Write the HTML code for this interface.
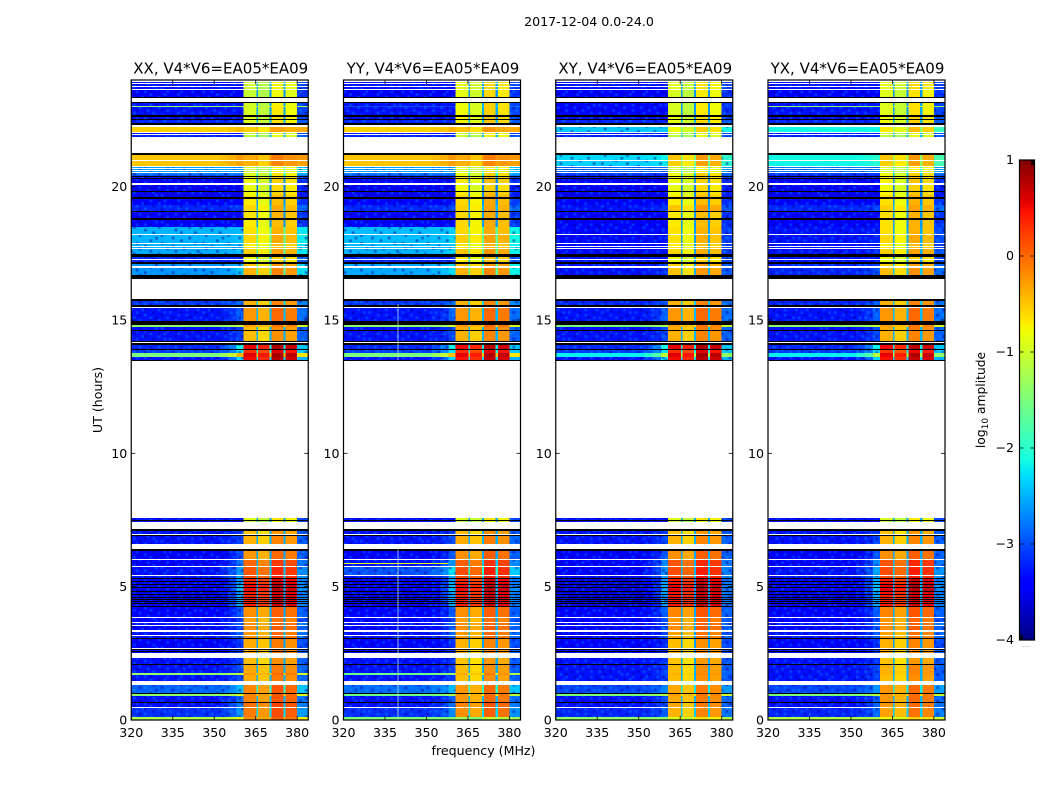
<!DOCTYPE html>
<html lang="en">
<head>
<meta charset="utf-8">
<title>2017-12-04 0.0-24.0 amplitude waterfall</title>
<style>
html,body{margin:0;padding:0;background:#fff;}
svg{display:block;font-family:"DejaVu Sans","Liberation Sans",sans-serif;fill:#000;}
.tick{font-size:12.6px;}
.title{font-size:15px;}
.label{font-size:12.6px;}
</style>
</head>
<body>
<svg id="chart" xmlns="http://www.w3.org/2000/svg" width="1050" height="800" viewBox="0 0 1050 800">
  <defs>
    <pattern id="speckle" patternUnits="userSpaceOnUse" width="66.48" height="26.6"></pattern>
    <linearGradient id="jetGradient" x1="0" y1="1" x2="0" y2="0"></linearGradient>
  </defs>
  <text x="589" y="26" text-anchor="middle" class="label">2017-12-04 0.0-24.0</text>
  <text x="483.500" y="755" text-anchor="middle" class="label">frequency (MHz)</text>
  <text transform="translate(102,400) rotate(-90)" text-anchor="middle" class="label">UT (hours)</text>
  <text transform="translate(985,400) rotate(-90)" text-anchor="middle" class="label" style="font-size:12.3px">log<tspan dy="3" font-size="9">10</tspan><tspan dy="-3"> amplitude</tspan></text>
  <g id="panels"></g>
  <g id="colorbar"></g>
</svg>
<script>
/* ---- time structure: runs of samples from the top of the plot (24 h) downward ---- */
const sampleHours = 0.0375;
/* Run table: kind letter (W = no data, K = flagged black, D = data) and length in samples */
const runTable = [
 ["W",2],["D",1],["W",1],["D",2],["W",1],["D",2],["W",1],["D",7],["K",1],["W",4],
 ["K",1],["D",3],["D",1],["D",8],["K",2],["D",2],["K",1],["D",3],["K",2],["W",2],
 ["D",5],["W",1],["D",1],["W",1],["D",2],["W",16],["K",2],["D",5],["W",1],["D",5],
 ["W",1],["D",1],["W",1],["D",1],["W",1],["D",1],["W",1],["D",2],["D",1],["K",1],
 ["D",1],["K",1],["D",4],["W",2],["D",6],["K",1],["D",3],["D",2],["K",2],["D",6],
 ["D",6],["K",1],["D",6],["K",2],["D",7],["D",7],["W",1],["D",8],["W",1],["D",2],
 ["W",1],["D",1],["W",1],["D",5],["K",3],["D",2],["W",1],["D",2],["K",2],["D",2],
 ["W",2],["D",7],["K",4],["W",20],["K",2],["D",4],["K",2],["W",1],["D",13],["K",4],
 ["D",2],["D",3],["K",1],["D",10],["K",1],["W",1],["K",2],["D",4],["K",1],["D",3],
 ["D",4],["D",3],["K",1],["W",157],["D",2],["K",1],["D",1],["W",7],["K",2],["D",3],
 ["W",1],["K",1],["D",8],["W",5],["K",2],["D",8],["W",1],["D",6],["W",1],["D",8],
 ["W",1],["D",2],["K",1],["D",2],["K",1],["D",2],["K",1],["D",2],["K",1],["D",3],
 ["K",1],["D",2],["K",1],["D",2],["K",1],["D",1],["K",1],["D",1],["K",1],["D",1],
 ["K",1],["D",2],["K",1],["D",10],["W",1],["D",4],["W",1],["D",2],["W",1],["D",4],
 ["W",2],["D",3],["W",1],["D",2],["K",1],["D",9],["W",1],["K",1],["D",1],["K",1],
 ["D",1],["W",5],["D",6],["K",1],["D",8],["D",2],["D",6],["W",4],["D",8],["K",1],
 ["D",2],["D",6],["K",1],["D",4],["W",1],["D",9],["D",3]
];

/* ---- log10 amplitude of each data run, one array per panel ---- */
const lowXX = [
 -3.1,-3.1,-3.1,-3.2,-3.1,-1.2,-3.1,-3.1,-3.0,-0.35,
 -3.1,-3.0,-0.3,-0.3,-2.4,-2.4,-2.4,-2.6,-2.8,-3.1,
 -3.2,-3.3,-3.3,-3.3,-3.2,-3.0,-3.2,-3.2,-2.3,-2.3,
 -2.3,-2.3,-2.35,-3.0,-3.0,-2.45,-2.45,-2.9,-3.1,-1.2,
 -3.1,-3.1,-3.0,-2.9,-1.3,-3.1,-3.1,-3.1,-3.1,-3.1,
 -3.2,-3.2,-3.1,-3.1,-3.3,-3.3,-3.3,-3.3,-3.3,-3.3,
 -3.3,-3.3,-3.3,-3.3,-3.2,-3.2,-3.1,-3.2,-3.1,-3.1,
 -3.2,-3.2,-3.2,-3.1,-3.1,-1.2,-3.1,-2.7,-1.2,-3.1,
 -3.1,-2.95,-1.0];
const highXX = [
 -0.9,-0.9,-0.9,-0.95,-0.9,-0.85,-0.85,-0.8,-0.8,-0.45,
 -1,-1,-0.25,-0.3,-0.9,-0.9,-0.9,-0.8,-0.8,-0.7,
 -0.7,-0.75,-0.7,-0.6,-0.6,-0.5,-0.55,-0.6,-0.55,-0.5,
 -0.6,-0.6,-0.45,-0.7,-0.7,-0.4,-0.3,-0.3,-0.15,-0.2,
 -0.35,-0.35,0.65,0.4,0.7,0.6,-0.8,-1,-0.4,-0.3,
 -0.15,0.1,0.2,0.25,0.45,0.5,0.6,0.6,0.5,0.5,
 0.5,0.5,0.5,0.5,-0.1,-0.2,-0.1,-0.1,-0.15,-0.1,
 -0.25,-0.2,-0.2,-0.35,-0.25,-0.15,-0.25,-0.05,-0.05,-0.05,
 0.05,0,-0.1];
const lowYY = [
 -3.1,-3.1,-3.1,-3.2,-3.1,-2.8,-3.1,-3.1,-3.0,-0.35,
 -3.1,-3.0,-0.3,-0.3,-2.4,-2.4,-2.4,-2.6,-2.8,-3.1,
 -3.2,-3.3,-3.3,-3.3,-3.2,-3.0,-3.2,-3.2,-2.25,-2.25,
 -2.25,-2.25,-2.3,-3.0,-3.0,-2.35,-2.35,-2.9,-3.1,-1.2,
 -3.1,-3.1,-3.0,-2.9,-1.3,-3.1,-3.1,-3.1,-3.1,-3.1,
 -3.2,-3.1,-2.8,-3.1,-3.3,-3.3,-3.3,-3.3,-3.3,-3.3,
 -3.3,-3.3,-3.3,-3.3,-3.2,-3.2,-3.1,-3.2,-3.1,-3.1,
 -3.2,-3.2,-3.2,-3.1,-3.1,-1.4,-3.1,-2.65,-1.4,-3.1,
 -3.1,-2.95,-1.3];
const highYY = [
 -0.75,-0.75,-0.75,-0.75,-0.7,-0.7,-0.7,-0.65,-0.65,-0.4,
 -0.9,-0.9,-0.25,-0.3,-0.8,-0.8,-0.8,-0.7,-0.7,-0.6,
 -0.6,-0.7,-0.6,-0.5,-0.5,-0.45,-0.5,-0.5,-0.5,-0.45,
 -0.55,-0.55,-0.4,-0.6,-0.6,-0.35,-0.3,-0.3,-0.15,-0.15,
 -0.25,-0.3,0.6,0.4,0.65,0.55,-0.8,-1,-0.35,-0.25,
 -0.1,0.15,0.25,0.25,0.45,0.5,0.6,0.6,0.5,0.5,
 0.5,0.5,0.5,0.5,-0.1,-0.2,-0.1,-0.1,-0.15,-0.15,
 -0.3,-0.3,-0.3,-0.4,-0.35,-0.25,-0.35,-0.15,-0.15,-0.15,
 -0.05,-0.1,-1.2];
const lowXY = [
 -3.1,-3.1,-3.1,-3.2,-3.2,-3.1,-3.2,-3.1,-3.0,-2.2,
 -3.1,-3.0,-2.1,-2.15,-2.7,-2.7,-2.7,-2.9,-3.0,-3.1,
 -3.2,-3.3,-3.3,-3.3,-3.2,-3.1,-3.2,-3.2,-3.15,-3.15,
 -3.15,-3.15,-3.15,-3.1,-3.1,-3.1,-3.1,-3.0,-3.1,-1.3,
 -3.1,-3.1,-3.0,-2.9,-2.0,-3.1,-3.1,-3.1,-3.1,-3.1,
 -3.2,-3.2,-3.2,-3.2,-3.4,-3.4,-3.4,-3.4,-3.4,-3.4,
 -3.4,-3.4,-3.4,-3.4,-3.2,-3.2,-3.2,-3.2,-3.2,-3.2,
 -3.2,-3.2,-3.2,-3.1,-3.1,-3.1,-3.1,-2.85,-1.3,-3.1,
 -3.1,-3.0,-1.2];
const highXY = [
 -0.8,-0.8,-0.8,-0.85,-0.85,-0.85,-0.85,-0.75,-0.75,-0.7,
 -1,-1,-0.4,-0.45,-0.9,-0.9,-0.9,-0.7,-0.7,-0.7,
 -0.7,-0.75,-0.7,-0.6,-0.6,-0.4,-0.6,-0.6,-0.55,-0.55,
 -0.6,-0.6,-0.5,-0.7,-0.7,-0.45,-0.4,-0.3,-0.15,-0.2,
 -0.25,-0.3,0.65,0.4,0.7,0.6,-0.8,-1,-0.4,-0.3,
 -0.1,0.2,0.25,0.3,0.5,0.55,0.65,0.65,0.55,0.55,
 0.55,0.55,0.55,0.55,-0.05,-0.15,-0.1,-0.1,-0.2,-0.2,
 -0.35,-0.3,-0.3,-0.4,-0.35,-0.3,-0.35,-0.25,-0.2,-0.25,
 -0.25,-0.3,-0.8];
const lowYX = [
 -3.1,-3.1,-3.1,-3.2,-3.1,-1.3,-3.1,-3.1,-3.0,-1.95,
 -3.1,-3.0,-1.95,-1.95,-2.6,-2.6,-2.6,-2.9,-3.0,-3.1,
 -3.2,-3.3,-3.3,-3.3,-3.2,-3.0,-3.2,-3.2,-3.1,-3.1,
 -3.1,-3.1,-3.1,-3.1,-3.1,-3.0,-3.0,-3.0,-3.1,-1.2,
 -3.1,-3.1,-3.0,-2.9,-2.0,-3.1,-3.1,-3.1,-3.1,-3.1,
 -3.2,-3.2,-3.1,-3.1,-3.3,-3.3,-3.3,-3.3,-3.3,-3.3,
 -3.3,-3.3,-3.3,-3.3,-3.2,-3.2,-3.1,-3.2,-3.1,-3.1,
 -3.2,-3.2,-3.2,-3.1,-3.1,-3.1,-3.1,-2.85,-1.3,-3.1,
 -3.1,-3.0,-1.0];
const highYX = [
 -0.75,-0.75,-0.75,-0.8,-0.8,-0.8,-0.8,-0.7,-0.7,-0.6,
 -1,-1,-0.4,-0.45,-0.85,-0.85,-0.85,-0.7,-0.7,-0.65,
 -0.65,-0.7,-0.65,-0.55,-0.55,-0.45,-0.55,-0.55,-0.55,-0.5,
 -0.6,-0.6,-0.45,-0.7,-0.7,-0.45,-0.35,-0.3,-0.15,-0.2,
 -0.25,-0.3,0.6,0.35,0.65,0.55,-0.85,-1,-0.4,-0.3,
 -0.1,0.2,0.25,0.25,0.5,0.55,0.65,0.65,0.55,0.5,
 0.5,0.5,0.5,0.5,-0.05,-0.15,-0.1,-0.1,-0.2,-0.2,
 -0.3,-0.3,-0.3,-0.4,-0.3,-0.3,-0.35,-0.15,-0.15,-0.15,
 -0.15,-0.2,-0.7];

/* ---- frequency structure of the band ---- */
const segmentEdges   = [320,352,355,358,360.5,365.2,365.8,370,370.8,375,375.8,380,384];
const segmentInBand  = [0,0,0,0,1,0,1,0,1,0,1,0];
const segmentOffset  = [-0.2,-0.2,-0.2,-0.2,-0.1,0.55,-0.25,0.55,0.15,0.55,0.05,0.05];
const segmentLeak    = [0,0.15,0.35,0.85,0,0.2,0,0.2,0,0.2,0,0.45];

/* ---- narrow interference features seen only in YY ---- */
const yyLineHours    = [5.89];
const yyLineLevels   = [-0.9];
const yyColumnFreq   = [339.5];
const yyColumnStart  = [0,13.5];
const yyColumnEnd    = [6.4,15.6];

/* ---- labels and ticks ---- */
const panelNames   = ["XX","YY","XY","YX"];
const panelLows    = [lowXX,lowYY,lowXY,lowYX];
const panelHighs   = [highXX,highYY,highXY,highYX];
const xTicks       = [320,335,350,365,380];
const yTicks       = [0,5,10,15,20];
const cbarTicks    = [1,0,-1,-2,-3,-4];
const cbarMinor    = [0.95,0.9,0.85,0.8];
const baselineText = "V4*V6=EA05*EA09";
const jetKnots     = [0,0.11,0.125,0.34,0.35,0.375,0.64,0.65,0.66,0.89,0.91,1];
const noiseTile = [
 "..+...-..+.....+.-..+...",
 ".-...+....-.+.....+...-.",
 "+...-..+......-.+....+..",
 "..-.....+.+.-.....-.....",
 ".+..+.-.....+..-.+...+.-",
 "-.....+..-.+....+...-...",
 "...+-....+.....-...+...+",
 ".+.....-...+.+...-....-.",
 "..-.+.....-.....+..+....",
 "+.....+.-...+.-.....-.+."
];

/* ---- geometry ---- */
const panelLeft0 = 131.25, panelStep = 212.25, panelW = 177, axTop = 80, axH = 640;
const cbX = 1019.5, cbW = 15, cbTop = 160, cbH = 480;
const NS = "http://www.w3.org/2000/svg";
function yScale(h){ return axTop + axH*(1 - h/24); }
function xScaleFor(left){ return function(f){ return left + (f-320)/64*panelW; }; }
function cbY(v){ return cbTop + cbH*(1-(v+4)/5); }
function lerp(x,xs,ys){
  for(let i=1;i<xs.length;i++){ if(x<=xs[i]) return ys[i-1]+(ys[i]-ys[i-1])*(x-xs[i-1])/(xs[i]-xs[i-1]); }
  return ys[ys.length-1];
}
function jet(v){
  const t=Math.max(0,Math.min(1,(v+4)/5));
  const r=lerp(t,[0,0.35,0.66,0.89,1],[0,0,1,1,0.5]);
  const g=lerp(t,[0,0.125,0.375,0.64,0.91,1],[0,0,1,1,0,0]);
  const b=lerp(t,[0,0.11,0.34,0.65,1],[0.5,1,1,0,0]);
  return "rgb("+Math.round(r*255)+","+Math.round(g*255)+","+Math.round(b*255)+")";
}
function mk(tag,parent){ const e=document.createElementNS(NS,tag); parent.appendChild(e); return e; }

/* noise tile */
const speckle=document.getElementById("speckle");
noiseTile.forEach(function(row,j){
  for(let i=0;i<row.length;i++){
    if(row[i]==="."){continue;}
    const c=mk("rect",speckle);
    
    
    c.setAttribute("x",i*2.77);c.setAttribute("y",j*2.66);
    c.setAttribute("width",2.77);c.setAttribute("height",2.66);
    c.setAttribute("fill",row[i]==="+"?"#00c8ff":"#000090");
    c.setAttribute("fill-opacity",row[i]==="+"?"0.25":"0.45");
  }
});

/* panels */
const panelsG=document.getElementById("panels");
panelNames.forEach(function(name,p){
  const left=panelLeft0+p*panelStep;
  const x=xScaleFor(left);
  const low=panelLows[p], high=panelHighs[p];
  const g=mk("g",panelsG);
  
  
  const heat=mk("g",g);
  
  
  heat.setAttribute("shape-rendering","crispEdges");
  let sample=0, d=0;
  runTable.forEach(function(run){
    const kind=run[0], len=run[1];
    const hTop=24-sample*sampleHours, hBot=24-(sample+len)*sampleHours;
    sample+=len;
    const yT=yScale(hTop), yB=Math.min(yScale(hBot),axTop+axH);
    if(kind==="W"){ return; }
    if(kind==="K"){
      const k=mk("rect",heat);
      
      
      k.setAttribute("x",x(320));k.setAttribute("y",yT);
      k.setAttribute("width",panelW);k.setAttribute("height",yB-yT);
      k.setAttribute("fill","#000");
      return;
    }
    const lo=low[d], hi=high[d]; d++;
    for(let s=0;s<segmentInBand.length;s++){
      let val=(segmentInBand[s]?hi:lo)+segmentOffset[s]+segmentLeak[s]*Math.max(0,hi+0.6);
      if(!segmentInBand[s]){ val=Math.min(val,Math.max(hi,lo)); }
      const c=mk("rect",heat);
      
      
      const x0=x(segmentEdges[s]), x1=x(segmentEdges[s+1]);
      c.setAttribute("x",x0);c.setAttribute("y",yT);
      c.setAttribute("width",x1-x0);c.setAttribute("height",yB-yT);
      c.setAttribute("fill",jet(val));
      if(!segmentInBand[s] && segmentOffset[s]<0.5 && lo<-2){
        const n=mk("rect",heat);
        
        
        n.setAttribute("x",x0);n.setAttribute("y",yT);
        n.setAttribute("width",x1-x0);n.setAttribute("height",yB-yT);
        n.setAttribute("fill","url(#speckle)");
      }
    }
  });
  if(name==="YY"){
    yyLineHours.forEach(function(h,i){
      const l=mk("rect",heat);
      
      
      l.setAttribute("x",x(320));l.setAttribute("y",yScale(h));
      l.setAttribute("width",x(358)-x(320));l.setAttribute("height",1);
      l.setAttribute("fill",jet(yyLineLevels[i]));
    });
    yyColumnStart.forEach(function(h,i){
      const cl=mk("rect",heat);
      
      
      cl.setAttribute("x",x(yyColumnFreq[0]));cl.setAttribute("y",yScale(yyColumnEnd[i]));
      cl.setAttribute("width",1);cl.setAttribute("height",yScale(h)-yScale(yyColumnEnd[i]));
      cl.setAttribute("fill","#c8ffe0");cl.setAttribute("fill-opacity","0.7");
    });
  }
  /* frame */
  const frame=mk("rect",g);
  
  
  frame.setAttribute("x",left);frame.setAttribute("y",axTop);
  frame.setAttribute("width",panelW);frame.setAttribute("height",axH);
  frame.setAttribute("fill","none");frame.setAttribute("stroke","#000");frame.setAttribute("stroke-width","1.2");
  /* title */
  const t=mk("text",g);
  
  
  t.setAttribute("class","title");
  t.setAttribute("x",left+panelW/2+1);t.setAttribute("y",73.5);t.setAttribute("text-anchor","middle");
  t.textContent=name+", "+baselineText;
  /* x ticks */
  xTicks.forEach(function(v){
    const px=x(v);
    [[axTop+axH,axTop+axH-4],[axTop,axTop+4]].forEach(function(pair){
      const l=mk("line",g);
      
      
      l.setAttribute("x1",px);l.setAttribute("x2",px);l.setAttribute("y1",pair[0]);l.setAttribute("y2",pair[1]);
      l.setAttribute("stroke","#000");l.setAttribute("stroke-width","0.8");
    });
    const lab=mk("text",g);
    
    
    lab.setAttribute("class","tick");
    lab.setAttribute("x",px);lab.setAttribute("y",737);lab.setAttribute("text-anchor","middle");
    lab.textContent=v;
  });
  /* y ticks */
  yTicks.forEach(function(v){
    const py=yScale(v);
    [[left,left+4],[left+panelW,left+panelW-4]].forEach(function(pair){
      const l=mk("line",g);
      
      
      l.setAttribute("y1",py);l.setAttribute("y2",py);l.setAttribute("x1",pair[0]);l.setAttribute("x2",pair[1]);
      l.setAttribute("stroke","#000");l.setAttribute("stroke-width","0.8");
    });
    const lab=mk("text",g);
    
    
    lab.setAttribute("class","tick");
    lab.setAttribute("x",left-4);lab.setAttribute("y",py+4.5);lab.setAttribute("text-anchor","end");
    lab.textContent=v;
  });
});

/* colorbar */
const grad=document.getElementById("jetGradient");
jetKnots.forEach(function(k){
  const st=mk("stop",grad);
  
  
  st.setAttribute("offset",k);
  st.setAttribute("stop-color",jet(k*5-4));
});
const cb=document.getElementById("colorbar");
const cbRect=mk("rect",cb);


cbRect.setAttribute("x",cbX);cbRect.setAttribute("y",cbTop);
cbRect.setAttribute("width",cbW);cbRect.setAttribute("height",cbH);
cbRect.setAttribute("fill","url(#jetGradient)");cbRect.setAttribute("stroke","#000");cbRect.setAttribute("stroke-width","1.2");
cbarTicks.forEach(function(v){
  const py=cbY(v);
  [[cbX,cbX+4],[cbX+cbW,cbX+cbW-4]].forEach(function(pair){
    const l=mk("line",cb);
    
    
    l.setAttribute("y1",py);l.setAttribute("y2",py);l.setAttribute("x1",pair[0]);l.setAttribute("x2",pair[1]);
    l.setAttribute("stroke","#000");l.setAttribute("stroke-width","0.8");
  });
  const lab=mk("text",cb);
  
  
  lab.setAttribute("class","tick");
  lab.setAttribute("x",1014);lab.setAttribute("y",py+4);lab.setAttribute("text-anchor","end");
  lab.textContent=String(v).replace("-","\u2212");
});
cbarMinor.forEach(function(frac){
  const px=cbX+cbW*frac;
  const qx=cbX+cbW*(1-frac);
  [[cbTop,cbTop+5,px],[cbTop+cbH,cbTop+cbH-5,qx]].forEach(function(t){
    const l=mk("line",cb);
    
    
    l.setAttribute("x1",t[2]);l.setAttribute("x2",t[2]);l.setAttribute("y1",t[0]);l.setAttribute("y2",t[1]);
    l.setAttribute("stroke","#000");l.setAttribute("stroke-width","0.8");
  });
});
const dots=mk("text",cb);


dots.setAttribute("x",1026);dots.setAttribute("y",647);dots.setAttribute("text-anchor","middle");
dots.setAttribute("font-size","5");dots.setAttribute("fill","#666");
dots.textContent="......";
</script>
</body>
</html>
